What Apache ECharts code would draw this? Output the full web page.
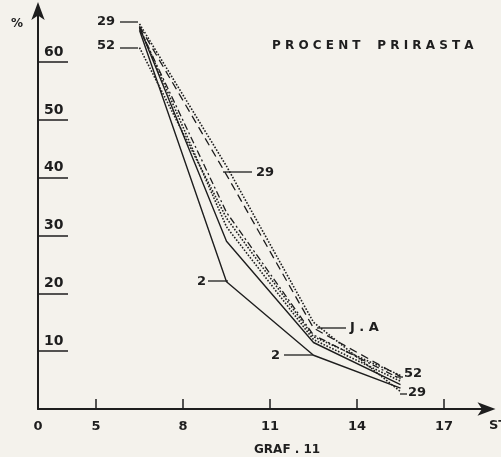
<!DOCTYPE html>
<html>
<head>
<meta charset="utf-8">
<script src="https://cdn.jsdelivr.net/npm/echarts@6/dist/echarts.min.js"></script>
<style>
  html, body { margin: 0; padding: 0; background: #f4f2ec; }
  #chart { width: 501px; height: 457px; }
</style>
</head>
<body>
<div id="chart"></div>
<script>
// podaci procitani sa grafa (x = sredina intervala)
const xPoints = [6.5, 9.5, 12.5, 15.5];
const xTicks = [3, 5, 8, 11, 14, 17];
const yTicks = [10, 20, 30, 40, 50, 60];

const lineA = [65.5, 22.0, 9.3, 3.6];   // puna linija "2"
const lineB = [66.0, 29.0, 11.5, 4.2];  // puna linija
const lineC = [66.0, 31.5, 12.0, 4.8];  // tackasta
const lineD = [65.8, 34.0, 12.8, 5.2];  // crta-tacka
const lineE = [66.2, 40.5, 14.0, 5.6];  // isprekidana "52"
const lineF = [66.6, 42.0, 15.0, 3.0];  // tackasta "29"
const lineG = [62.5, 33.0, 12.5, 5.8];  // tackasta "52"

function pairs(vals) {
    return xPoints.map((x, i) => [x, vals[i]]);
}

const ink = '#1e1e1e';
const font = 'DejaVu Sans';

function makeLine(name, vals, type, width) {
    return {
        name: name,
        type: 'line',
        data: pairs(vals),
        symbol: 'none',
        silent: true,
        lineStyle: { color: ink, width: width, type: type }
    };
}

const chart = echarts.init(document.getElementById('chart'));

// oznake sa crticama
function note(text, tx, ty, x1, x2, ly) {
    return [
        { type: 'line', shape: { x1: x1, y1: ly, x2: x2, y2: ly }, style: { stroke: ink, lineWidth: 1.3 } },
        { type: 'text', x: tx, y: ty, style: { text: text, fill: ink, font: 'bold 13px ' + font, textVerticalAlign: 'middle' } }
    ];
}

const option = {
    backgroundColor: '#f4f2ec',
    animation: false,
    grid: { left: 38, right: 13.5, top: 10, bottom: 48 },
    xAxis: {
        type: 'value',
        min: 3,
        max: 18.5,
        axisLine: {
            lineStyle: { color: ink, width: 2 },
            symbol: ['none', 'arrow'],
            symbolSize: [10, 18],
            symbolOffset: [0, 8]
        },
        axisTick: {
            inside: true,
            length: 10,
            customValues: [5, 8, 11, 14, 17],
            lineStyle: { color: ink, width: 1.5 }
        },
        axisLabel: {
            customValues: xTicks,
            margin: 11,
            color: ink,
            fontFamily: font,
            fontWeight: 'bold',
            fontSize: 13,
            formatter: v => (v === 3 ? '0' : String(v))
        },
        splitLine: { show: false }
    },
    yAxis: {
        type: 'value',
        min: 0,
        max: 69,
        axisLine: {
            show: true,
            lineStyle: { color: ink, width: 2 },
            symbol: ['none', 'arrow'],
            symbolSize: [10, 18],
            symbolOffset: [0, 8]
        },
        axisTick: {
            inside: true,
            length: 30,
            customValues: yTicks,
            lineStyle: { color: ink, width: 1.5 }
        },
        axisLabel: {
            inside: true,
            customValues: yTicks,
            margin: 6,
            align: 'left',
            verticalAlign: 'bottom',
            padding: [0, 0, 3, 0],
            color: ink,
            fontFamily: font,
            fontWeight: 'bold',
            fontSize: 14
        },
        splitLine: { show: false }
    },
    graphic: [
        { type: 'text', x: 11, y: 24, style: { text: '%', fill: ink, font: 'bold 12px ' + font, textVerticalAlign: 'middle' } },
        { type: 'text', x: 489, y: 426, style: { text: 'ST', fill: ink, font: 'bold 13px ' + font, textVerticalAlign: 'middle' } },
        { type: 'text', x: 254, y: 450, style: { text: 'GRAF . 11', fill: ink, font: 'bold 12px ' + font, textVerticalAlign: 'middle' } },
        { type: 'text', x: 272, y: 46, style: { text: 'P R O C E N T    P R I R A S T A', fill: ink, font: 'bold 12px ' + font, textVerticalAlign: 'middle' } },
        ...note('29', 97, 22, 120, 138, 22),
        ...note('52', 97, 46, 120, 138, 48),
        ...note('29', 256, 173, 223, 252, 172),
        ...note('2', 197, 282, 208, 228, 281),
        ...note('J . A', 350, 328, 317, 346, 328),
        ...note('2', 271, 356, 284, 313, 355),
        ...note('52', 404, 374, 396, 403, 377),
        ...note('29', 408, 393, 400, 407, 394)
    ],
    series: [
        makeLine('A', lineA, 'solid', 1.4),
        makeLine('B', lineB, 'solid', 1.4),
        makeLine('C', lineC, 'dotted', 1.6),
        makeLine('D', lineD, [7, 3, 2, 3], 1.3),
        makeLine('E', lineE, [8, 5], 1.3),
        makeLine('F', lineF, 'dotted', 1.6),
        makeLine('G', lineG, 'dotted', 1.6)
    ]
};

chart.setOption(option);
</script>
</body>
</html>
